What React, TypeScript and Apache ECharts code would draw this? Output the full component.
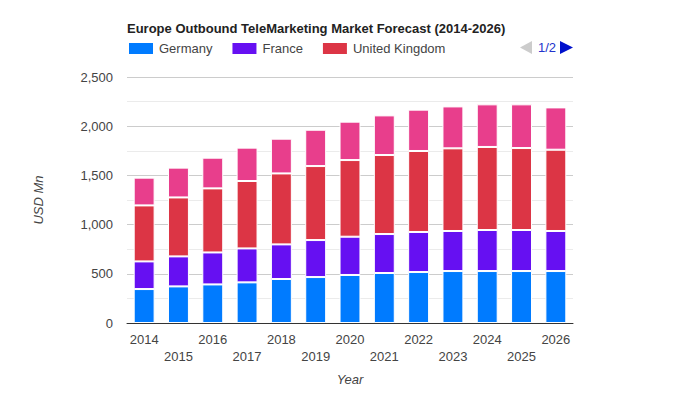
import React, { useEffect, useRef } from "react";
import * as echarts from "echarts";

const years = ["2014", "2015", "2016", "2017", "2018", "2019", "2020", "2021", "2022", "2023", "2024", "2025", "2026"];
const germany = [345, 372, 392, 413, 447, 467, 488, 508, 518, 528, 528, 528, 528];
const france = [281, 305, 325, 345, 352, 376, 389, 396, 407, 407, 417, 417, 407];
const unitedKingdom = [569, 599, 651, 685, 721, 752, 779, 803, 823, 840, 844, 833, 826];
const restOfEurope = [282, 303, 312, 339, 353, 369, 390, 403, 420, 426, 433, 444, 430];

const FONT = "'Liberation Sans', Arial, sans-serif";

export default function App() {
  const ref = useRef<HTMLDivElement>(null);
  useEffect(() => {
    if (!ref.current) return;
    const chart = echarts.init(ref.current, undefined, { renderer: "svg" });
    const mk = (name: string, data: number[], color: string) => ({
      name,
      type: "bar",
      stack: "total",
      data,
      barCategoryGap: "39%",
      itemStyle: { color, borderColor: "#ffffff", borderWidth: 1 },
      emphasis: { disabled: true },
    });
    chart.setOption({
      animation: false,
      textStyle: { fontFamily: FONT },
      title: {
        text: "Europe Outbound TeleMarketing Market Forecast (2014-2026)",
        left: 122,
        top: 17,
        textStyle: { fontFamily: FONT, fontSize: 13, fontWeight: "bold", color: "#222" },
      },
      legend: {
        data: ["Germany", "France", "United Kingdom"],
        left: 127,
        top: 41,
        padding: 0,
        itemWidth: 26,
        itemHeight: 13,
        itemGap: 18,
        icon: "rect",
        textStyle: { fontFamily: FONT, fontSize: 13, color: "#444" },
      },
      graphic: [
        {
          type: "polygon",
          shape: { points: [[532, 41], [532, 54], [520, 47.5]] },
          style: { fill: "#cccccc" },
        },
        {
          type: "text",
          x: 538,
          y: 41,
          style: { text: "1/2", fill: "#2233cc", font: "13px 'Liberation Sans', Arial, sans-serif" },
        },
        {
          type: "polygon",
          shape: { points: [[560, 41], [560, 54], [573, 47.5]] },
          style: { fill: "#0011cc" },
        },
      ],
      grid: { left: 127, right: 127, top: 77, bottom: 77, containLabel: false },
      xAxis: {
        type: "category",
        data: years,
        name: "Year",
        nameLocation: "middle",
        nameGap: 50,
        nameTextStyle: { fontFamily: FONT, fontSize: 13, fontStyle: "italic", color: "#444" },
        axisLine: { lineStyle: { color: "#333", width: 1 } },
        axisTick: { show: false },
        axisLabel: {
          interval: 0,
          margin: 8,
          fontFamily: FONT,
          fontSize: 13,
          color: "#444",
          lineHeight: 17,
          formatter: (v: string, i: number) => (i % 2 === 1 ? "\n" + v : v),
        },
      },
      yAxis: {
        type: "value",
        min: 0,
        max: 2500,
        interval: 500,
        name: "USD Mn",
        nameLocation: "middle",
        nameGap: 82,
        nameTextStyle: { fontFamily: FONT, fontSize: 13, fontStyle: "italic", color: "#444" },
        axisLine: { show: false },
        axisTick: { show: false },
        axisLabel: {
          margin: 14,
          fontFamily: FONT,
          fontSize: 13,
          color: "#444",
          formatter: (v: number) => v.toLocaleString("en-US"),
        },
        splitLine: { lineStyle: { color: "#cccccc", width: 1 } },
        minorTick: { show: false, splitNumber: 2 },
        minorSplitLine: { show: true, lineStyle: { color: "#ebebeb", width: 1 } },
      },
      series: [
        mk("Germany", germany, "#007bff"),
        mk("France", france, "#6610f2"),
        mk("United Kingdom", unitedKingdom, "#dc3545"),
        mk("Rest of Europe", restOfEurope, "#e83e8c"),
      ],
    });
    return () => chart.dispose();
  }, []);
  return <div ref={ref} style={{ width: 700, height: 400, position: "absolute", left: 0, top: 0 }} />;
}
